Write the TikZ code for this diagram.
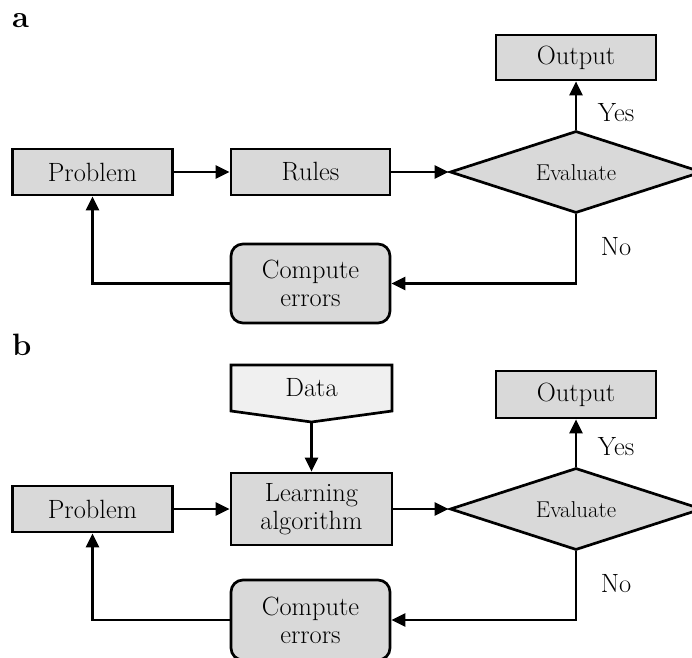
\documentclass[tikz,border=0pt]{standalone}
\usetikzlibrary{shapes.geometric,arrows.meta}
\definecolor{boxgray}{gray}{0.85}
\definecolor{datagray}{gray}{0.94}
% zero-size label so the diamond keeps its own proportions
\newcommand{\flatlabel}[1]{\smash{\makebox[0pt]{\raisebox{-0.36em}{#1}}}}
\begin{document}
\begin{tikzpicture}[x=1bp,y=-1bp,
  every node/.style={font=\fontsize{26.5}{28}\selectfont},
  box/.style={draw, line width=2.7bp, fill=boxgray, minimum width=160bp,
    minimum height=46bp, inner sep=0pt, align=center},
  roundbox/.style={box, rounded corners=12bp, minimum height=79bp},
  decision/.style={draw, line width=2.7bp, fill=boxgray, diamond, inner sep=0pt,
    minimum width=252bp, minimum height=82bp, font=\fontsize{23}{26}\selectfont},
  arr/.style={line width=2.5bp, -{Triangle[length=14bp,width=13bp]}},
  lbl/.style={inner sep=0pt},
  panel/.style={inner sep=0pt, anchor=base west, font=\fontsize{31}{34}\selectfont\bfseries}
]
\path[use as bounding box, clip] (0,0) rectangle (692,658);

% ---------- panel a: rule-based loop ----------
\node[panel] (la) at (12,28) {a};
\node[box] (pa) at (92.5,172) {Problem};
\node[box, minimum width=159bp] (ra) at (310.5,172) {Rules};
\node[decision] (ea) at (576,172) {\flatlabel{Evaluate}};
\node[box, minimum height=45bp] (oa) at (576,57.5) {Output};
\node[roundbox, minimum width=159bp] (ca) at (310.5,283.5) {Compute\\errors};
\node[lbl] (ya) at (616,113) {Yes};
\node[lbl] (na) at (616,247) {No};

\draw[arr] (pa) -- (ra);
\draw[arr] (ra) -- (ea);
\draw[arr] (ea.north) -- (oa.south);
\draw[arr] (ea.south) |- (ca.east);
\draw[arr] (ca.west) -| (pa.south);

% ---------- panel b: learning loop ----------
\node[panel] (lb) at (12,355) {b};
\node[box] (pb) at (92.5,509) {Problem};
\node[box, minimum width=161bp, minimum height=72bp] (lrn) at (311.5,509) {Learning\\algorithm};
\node[decision] (eb) at (576,509) {\flatlabel{Evaluate}};
\node[box, minimum height=47bp] (ob) at (576,394.5) {Output};
\node[roundbox, minimum width=159bp, minimum height=80bp] (cb) at (310.5,620) {Compute\\errors};
\node[lbl] (yb) at (616,447) {Yes};
\node[lbl] (nb) at (616,584) {No};

% data input tag
\coordinate (dtip) at (311.5,422);
\draw[line width=2.7bp, fill=datagray, line join=miter]
  (231,365) -- (392,365) -- (392,411) -- (dtip) -- (231,411) -- cycle;
\node[lbl] (data) at (311.5,388) {Data};

\draw[arr] (dtip) -- (lrn.north);
\draw[arr] (pb) -- (lrn);
\draw[arr] (lrn) -- (eb);
\draw[arr] (eb.north) -- (ob.south);
\draw[arr] (eb.south) |- (cb.east);
\draw[arr] (cb.west) -| (pb.south);
\end{tikzpicture}
\end{document}
